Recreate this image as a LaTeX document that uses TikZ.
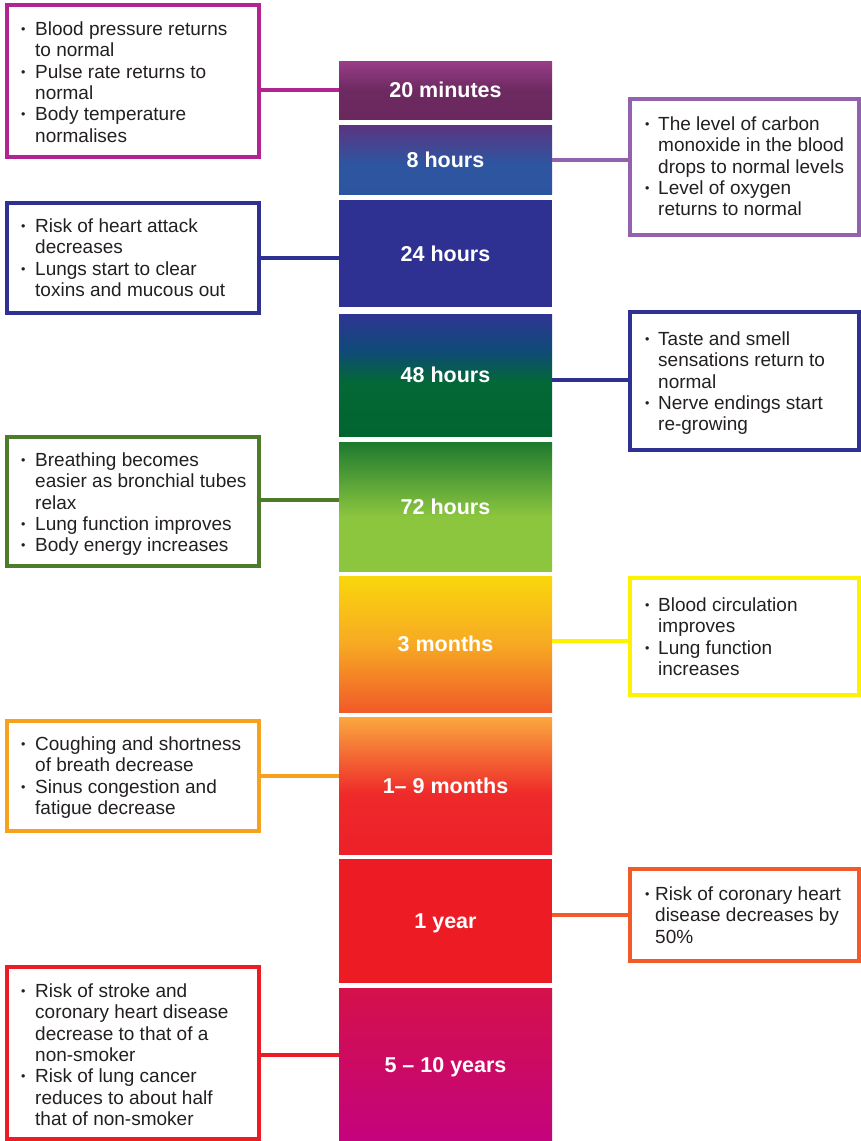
\documentclass[tikz,border=0pt]{standalone}
\usepackage{fontspec}
\setmainfont{Liberation Sans}
\usetikzlibrary{calc}
\definecolor{txt}{HTML}{231F20}
\definecolor{cLa}{HTML}{B2248F}
\definecolor{cRa}{HTML}{9361AD}
\definecolor{cLb}{HTML}{2E3192}
\definecolor{cRb}{HTML}{2E3192}
\definecolor{cLc}{HTML}{4C7B2A}
\definecolor{cRc}{HTML}{FFF200}
\definecolor{cLd}{HTML}{F7A21E}
\definecolor{cRd}{HTML}{F15A29}
\definecolor{cLe}{HTML}{ED1C24}
\definecolor{kAt}{HTML}{9A3D88}
\definecolor{kAm}{HTML}{6C2A60}
\definecolor{kAb}{HTML}{6A285E}
\definecolor{kBt}{HTML}{5B3480}
\definecolor{kBm}{HTML}{2E55A0}
\definecolor{kBb}{HTML}{2C55A0}
\definecolor{kC}{HTML}{2E3192}
\definecolor{kDt}{HTML}{2E3592}
\definecolor{kDa}{HTML}{0F4A78}
\definecolor{kDb}{HTML}{036836}
\definecolor{kDd}{HTML}{00652F}
\definecolor{kEt}{HTML}{1E7A2F}
\definecolor{kEm}{HTML}{8CC63F}
\definecolor{kFt}{HTML}{F9D70C}
\definecolor{kFm}{HTML}{F7A923}
\definecolor{kFb}{HTML}{F15A29}
\definecolor{kGt}{HTML}{FAA83F}
\definecolor{kGm}{HTML}{EE2A2A}
\definecolor{kGb}{HTML}{ED2029}
\definecolor{kH}{HTML}{ED1C24}
\definecolor{kIt}{HTML}{D4114A}
\definecolor{kIb}{HTML}{C4037D}
\pgfdeclareverticalshading{shA}{100bp}{color(0bp)=(kAb); color(25bp)=(kAb); color(50bp)=(kAm); color(75bp)=(kAt); color(100bp)=(kAt)}
\pgfdeclareverticalshading{shB}{100bp}{color(0bp)=(kBb); color(25bp)=(kBb); color(47bp)=(kBm); color(75bp)=(kBt); color(100bp)=(kBt)}
\pgfdeclareverticalshading{shD}{100bp}{color(0bp)=(kDd); color(25bp)=(kDd); color(47bp)=(kDb); color(60bp)=(kDa); color(75bp)=(kDt); color(100bp)=(kDt)}
\pgfdeclareverticalshading{shE}{100bp}{color(0bp)=(kEm); color(25bp)=(kEm); color(46bp)=(kEm); color(75bp)=(kEt); color(100bp)=(kEt)}
\pgfdeclareverticalshading{shF}{100bp}{color(0bp)=(kFb); color(25bp)=(kFb); color(50bp)=(kFm); color(75bp)=(kFt); color(100bp)=(kFt)}
\pgfdeclareverticalshading{shG}{100bp}{color(0bp)=(kGb); color(25bp)=(kGb); color(47bp)=(kGm); color(75bp)=(kGt); color(100bp)=(kGt)}
\pgfdeclareverticalshading{shI}{100bp}{color(0bp)=(kIb); color(25bp)=(kIb); color(75bp)=(kIt); color(100bp)=(kIt)}
\newlength\bw
\newcommand\bu{\makebox[\bw][l]{\raisebox{1.8pt}{\fontsize{12.5}{12.5}\selectfont\textbullet}}}
\newcommand\ci{\hspace*{\bw}}
\newcommand\blist[2]{\parbox[t]{320pt}{\setlength\bw{#1}\fontsize{19}{21.3}\selectfont\raggedright #2}}
\tikzset{
  col/.style={minimum width=213pt, inner sep=0pt, text=white, text height=15.4pt, text depth=0pt,
    font=\fontsize{21.5}{24}\selectfont\bfseries},
  lbox/.style={draw=#1, line width=4pt, minimum width=252pt, inner sep=0pt},
  rbox/.style={draw=#1, line width=4pt, minimum width=229pt, inner sep=0pt},
  tx/.style={anchor=base west, inner sep=0pt, text=txt},
  link/.style={draw=#1, line width=4pt}
}
\begin{document}
\begin{tikzpicture}[x=1pt,y=-1pt]
\useasboundingbox (0,0) rectangle (861,1141);
% timeline blocks
\node[col, shade, shading=shA, minimum height=58pt]  (c1) at (445.5,90)    {20 minutes};
\node[col, shade, shading=shB, minimum height=69pt]  (c2) at (445.5,159.5) {8 hours};
\node[col, fill=kC,            minimum height=107pt] (c3) at (445.5,253.5) {24 hours};
\node[col, shade, shading=shD, minimum height=122pt] (c4) at (445.5,375)   {48 hours};
\node[col, shade, shading=shE, minimum height=129pt] (c5) at (445.5,506.5) {72 hours};
\node[col, shade, shading=shF, minimum height=136pt] (c6) at (445.5,644)   {3 months};
\node[col, shade, shading=shG, minimum height=137pt] (c7) at (445.5,785.5) {1– 9 months};
\node[col, fill=kH,            minimum height=124pt] (c8) at (445.5,921)   {1 year};
\node[col, shade, shading=shI, minimum height=153pt] (c9) at (445.5,1064.5) {5 – 10 years};
% boxes
\node[lbox=cLa, minimum height=152pt] (L1) at (133,81) {};
\node[rbox=cRa, minimum height=136pt] (R1) at (744.5,167) {};
\node[lbox=cLb, minimum height=110pt] (L2) at (133,258) {};
\node[rbox=cRb, minimum height=138pt] (R2) at (744.5,381) {};
\node[lbox=cLc, minimum height=129pt] (L3) at (133,501.5) {};
\node[rbox=cRc, minimum height=117pt] (R3) at (744.5,636.5) {};
\node[lbox=cLd, minimum height=110pt] (L4) at (133,776) {};
\node[rbox=cRd, minimum height=92pt]  (R4) at (744.5,915) {};
\node[lbox=cLe, minimum height=172pt] (L5) at (133,1053) {};
% connectors
\draw[link=cLa] (c1.west) -- (c1.west -| L1.east);
\draw[link=cRa] (c2.east) -- (c2.east -| R1.west);
\draw[link=cLb] (L2.east) -- (L2.east -| c3.west);
\draw[link=cRb] ([yshift=1.5pt]R2.west) -- ([yshift=1.5pt]R2.west -| c4.east);
\draw[link=cLc] ([yshift=1.5pt]L3.east) -- ([yshift=1.5pt]L3.east -| c5.west);
\draw[link=cRc] ([yshift=-4.5pt]R3.west) -- ([yshift=-4.5pt]R3.west -| c6.east);
\draw[link=cLd] (L4.east) -- (L4.east -| c7.west);
\draw[link=cRd] (R4.west) -- (R4.west -| c8.east);
\draw[link=cLe] ([yshift=-2pt]L5.east) -- ([yshift=-2pt]L5.east -| c9.west);
% texts
\node[tx] (L1t) at (21,35.5) {\blist{14pt}{\bu Blood pressure returns\\\ci to normal\\\bu Pulse rate returns to\\\ci normal\\\bu Body temperature\\\ci normalises}};
\node[tx] (R1t) at (645,130.5) {\blist{13pt}{\bu The level of carbon\\\ci monoxide in the blood\\\ci drops to normal levels\\\bu Level of oxygen\\\ci returns to normal}};
\node[tx] (L2t) at (21,232.5) {\blist{14pt}{\bu Risk of heart attack\\\ci decreases\\\bu Lungs start to clear\\\ci toxins and mucous out}};
\node[tx] (R2t) at (645,345.5) {\blist{13pt}{\bu Taste and smell\\\ci sensations return to\\\ci normal\\\bu Nerve endings start\\\ci re-growing}};
\node[tx] (L3t) at (21,466.5) {\blist{14pt}{\bu Breathing becomes\\\ci easier as bronchial tubes\\\ci relax\\\bu Lung function improves\\\bu Body energy increases}};
\node[tx] (R3t) at (645,611.5) {\blist{13pt}{\bu Blood circulation\\\ci improves\\\bu Lung function\\\ci increases}};
\node[tx] (L4t) at (21,750.5) {\blist{14pt}{\bu Coughing and shortness\\\ci of breath decrease\\\bu Sinus congestion and\\\ci fatigue decrease}};
\node[tx] (R4t) at (645,900.5) {\blist{10pt}{\bu Risk of coronary heart\\\ci disease decreases by\\\ci 50\%}};
\node[tx] (L5t) at (21,997.5) {\blist{14pt}{\bu Risk of stroke and\\\ci coronary heart disease\\\ci decrease to that of a\\\ci non-smoker\\\bu Risk of lung cancer\\\ci reduces to about half\\\ci that of non-smoker}};
\end{tikzpicture}
\end{document}
